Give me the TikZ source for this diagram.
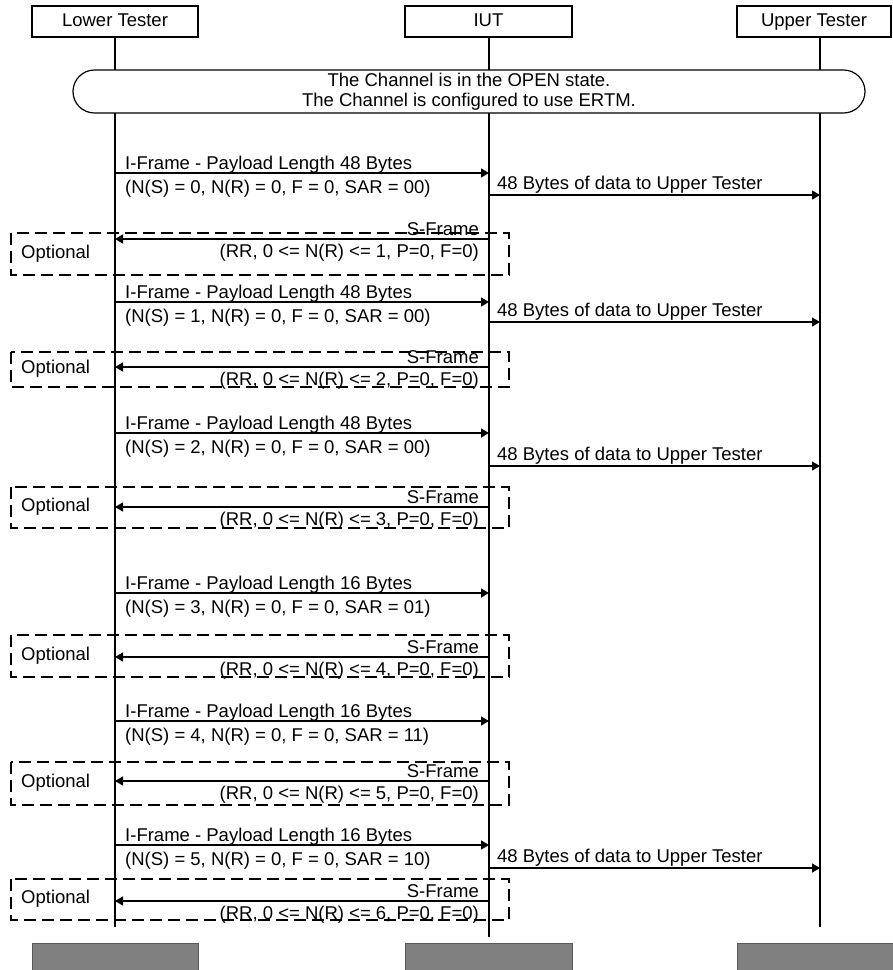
\documentclass[tikz,border=0pt]{standalone}
\usepackage{fontspec}
\setmainfont{Liberation Sans}
\usetikzlibrary{arrows.meta, positioning, shapes.misc}
\definecolor{tailGray}{HTML}{808080}

\begin{document}
\begin{tikzpicture}[x=1pt, y=-1pt, font=\fontsize{18.5}{20}\selectfont,
    head/.style={draw, line width=1.2pt, minimum height=31pt, inner sep=0pt,
      text height=13pt, text depth=4pt},
    tail/.style={fill=tailGray, draw=tailGray!70!black, line width=0.8pt,
      minimum height=40pt},
    life/.style={line width=1.6pt},
    msg/.style={line width=1.3pt, -{Triangle[length=8pt, width=9pt]}},
    optbox/.style={line width=1.2pt, dash pattern=on 12pt off 6pt},
    lbl/.style={inner sep=0pt}]
  \useasboundingbox (0,0) rectangle (893,970);

  % lifeline heads
  \node[head, minimum width=166pt] (lt) at (115,21.5) {Lower Tester};
  \node[head, minimum width=167pt] (iut) at (488.5,21.5) {IUT};
  \node[head, minimum width=154pt] (ut) at (814,21.5) {Upper Tester};

  \coordinate (ltend) at (115,927);
  \coordinate (iutend) at (489,937);
  \coordinate (utend) at (820,927);
  \draw[life] (lt.south) -- (ltend);
  \draw[life] (iut.south -| iutend) -- (iutend);
  \draw[life] (ut.south -| utend) -- (utend);

  % channel state
  \node[draw, fill=white, rounded rectangle, line width=1.2pt, inner sep=0pt,
        minimum width=792pt, minimum height=43pt, align=center]
        (state) at (469,91.5)
        {The Channel is in the OPEN state.\\The Channel is configured to use ERTM.};

  % I-Frames and optional S-Frames
  \foreach \n/\yi/\yt/\ys/\yb/\len/\ns/\sar in {
      1/173/233/239/275/48/0/00, 2/302/352/367/387/48/1/00,
      3/433/487/507/528/48/2/00, 4/593/635/657/677/16/3/01,
      5/721/762/781/805/16/4/11, 6/845/879/901/920/16/5/10}{
    \coordinate (ifrom\n) at (115,\yi);
    \coordinate (ito\n) at (489,\yi);
    \draw[msg] (ifrom\n) -- (ito\n);
    \node[lbl, anchor=base west] (itop\n) at ([shift={(10,-3.5)}]ifrom\n)
      {I-Frame - Payload Length \len{} Bytes};
    \node[lbl, anchor=base west] (ibot\n) at ([shift={(10,20)}]ifrom\n)
      {(N(S) = \ns, N(R) = 0, F = 0, SAR = \sar)};

    \draw[optbox] (11,\yt) rectangle (509,\yb);
    \node[lbl, anchor=west] (opt\n) at (21,{(\yt+\yb)/2-0.5}) {Optional};
    \coordinate (sfrom\n) at (489,\ys);
    \coordinate (sto\n) at (115,\ys);
    \draw[msg] (sfrom\n) -- (sto\n);
    \node[lbl, anchor=base east] (stop\n) at ([shift={(-10,-4)}]sfrom\n) {S-Frame};
    \node[lbl, anchor=base east] (sbot\n) at ([shift={(-10,18.5)}]sfrom\n)
      {(RR, 0 <= N(R) <= \n, P=0, F=0)};
  }

  % data to Upper Tester
  \foreach \n/\yd in {1/195, 2/322, 3/466, 6/868}{
    \coordinate (dfrom\n) at (489,\yd);
    \coordinate (dto\n) at (820,\yd);
    \draw[msg] (dfrom\n) -- (dto\n);
    \node[lbl, anchor=base west] (data\n) at ([shift={(8,-5.5)}]dfrom\n)
      {48 Bytes of data to Upper Tester};
  }

  % lifeline tails
  \node[tail, minimum width=166pt] (lttail) at (115,963) {};
  \node[tail, minimum width=167pt] (iuttail) at (488.5,963) {};
  \node[tail, minimum width=170pt] (uttail) at (822,963) {};
\end{tikzpicture}
\end{document}
